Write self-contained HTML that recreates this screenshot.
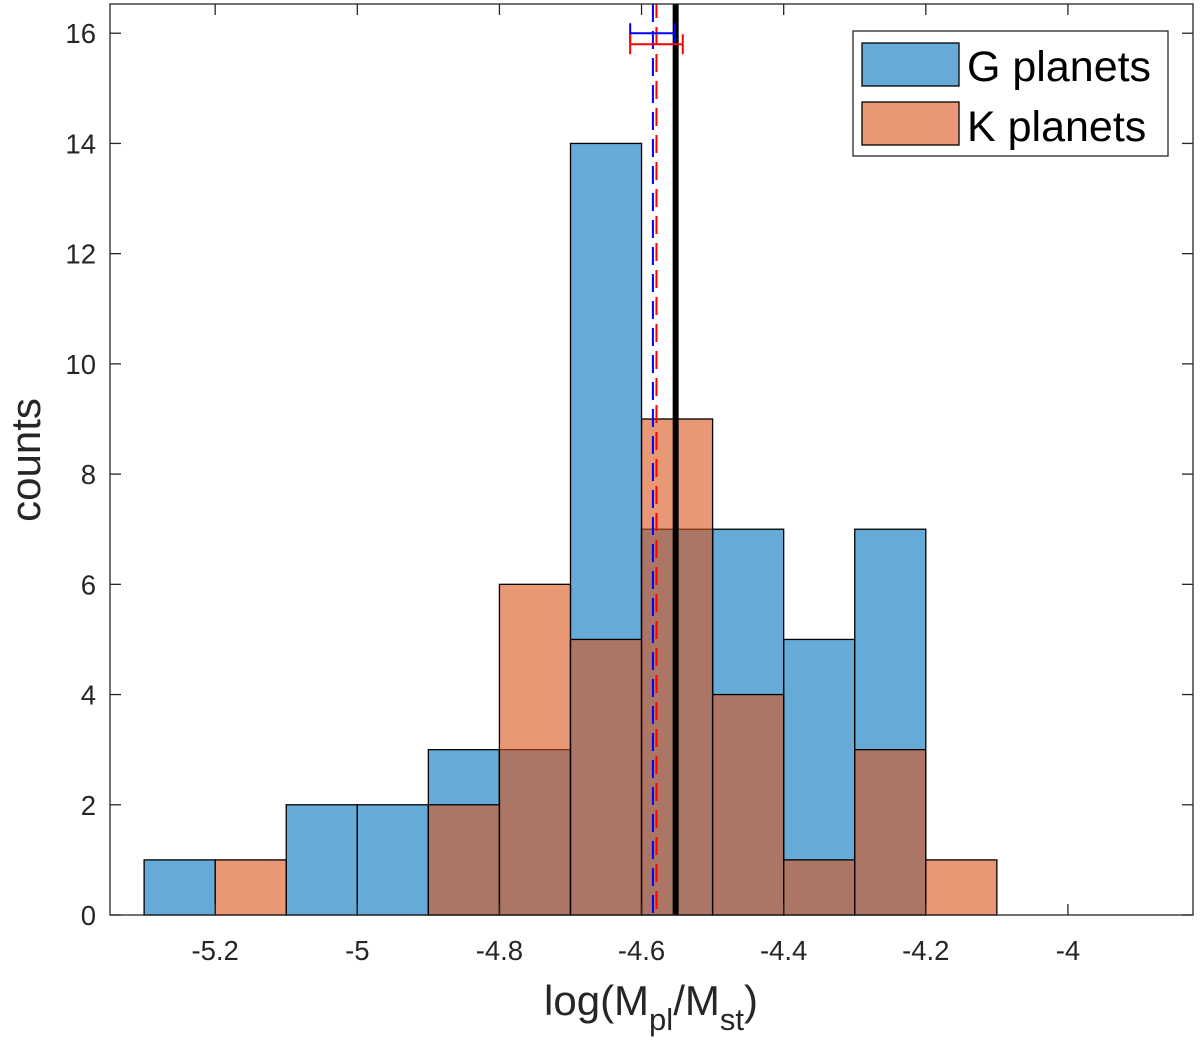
<!DOCTYPE html>
<html><head><meta charset="utf-8"><style>body{margin:0;background:#fff}svg{display:block}text{font-family:"Liberation Sans",Arial,sans-serif;fill:#262626}</style></head>
<body>
<svg id="c" width="1200" height="1053" viewBox="0 0 1200 1053"></svg>
<script>
const binStarts=[-5.3,-5.2,-5.1,-5.0,-4.9,-4.8,-4.7,-4.6,-4.5,-4.4,-4.3,-4.2];
const gCounts=[1,0,2,2,3,3,14,7,7,5,7,0];
const kCounts=[0,1,0,0,2,6,5,9,4,1,3,1];
const xTicks=[-5.2,-5,-4.8,-4.6,-4.4,-4.2,-4];
const xTickLabels=["-5.2","-5","-4.8","-4.6","-4.4","-4.2","-4"];
const yTicks=[0,2,4,6,8,10,12,14,16];
const meanAll=-4.552, meanG=-4.584, meanK=-4.579;
const errG=[-4.616,-4.553], errK=[-4.616,-4.542];
const binW=0.1;
const L=110,R=1193,T=4,B=915,x0=-5.348,x1=-3.824,y0=0,y1=16.53;
const X=v=>L+(v-x0)/(x1-x0)*(R-L), Y=v=>B-(v-y0)/(y1-y0)*(B-T);
const svg=document.getElementById('c'),NS='http://www.w3.org/2000/svg';
function el(t,a,p){const e=document.createElementNS(NS,t);for(const k in a)e.setAttribute(k,a[k]);(p||svg).appendChild(e);return e;}
const gG=el('g',{});


binStarts.forEach((s,i)=>{if(!gCounts[i])return;const r=el('rect',{x:X(s),y:Y(gCounts[i]),width:X(s+binW)-X(s),height:B-Y(gCounts[i]),fill:'#0072bd','fill-opacity':0.6,stroke:'#000','stroke-width':1.3},gG);

});
const gK=el('g',{});


binStarts.forEach((s,i)=>{if(!kCounts[i])return;const r=el('rect',{x:X(s),y:Y(kCounts[i]),width:X(s+binW)-X(s),height:B-Y(kCounts[i]),fill:'#d95319','fill-opacity':0.6,stroke:'#000','stroke-width':1.3},gK);

});
let ln=el('line',{x1:X(meanG),x2:X(meanG),y1:T,y2:B,stroke:'#0000ff','stroke-width':2,'stroke-dasharray':'18,9'});


ln=el('line',{x1:X(meanK),x2:X(meanK),y1:T,y2:B,stroke:'#ff0000','stroke-width':2,'stroke-dasharray':'18,9','stroke-dashoffset':4});


ln=el('line',{x1:X(meanAll),x2:X(meanAll),y1:T,y2:B,stroke:'#000','stroke-width':6});


function eb(r,yv,c,n){const g=el('g',{stroke:c,'stroke-width':2});


el('line',{x1:X(r[0]),x2:X(r[1]),y1:Y(yv),y2:Y(yv)},g);
[r[0],r[1]].forEach(v=>el('line',{x1:X(v),x2:X(v),y1:Y(yv)-10,y2:Y(yv)+10},g));}
eb(errG,16,'#0000ff','g-error-bar');eb(errK,15.8,'#ff0000','k-error-bar');
const ax=el('rect',{x:L,y:T,width:R-L,height:B-T,fill:'none',stroke:'#262626','stroke-width':1.3});


xTicks.forEach((v,i)=>{el('line',{x1:X(v),x2:X(v),y1:B,y2:B-11,stroke:'#262626','stroke-width':1.3});el('line',{x1:X(v),x2:X(v),y1:T,y2:T+11,stroke:'#262626','stroke-width':1.3});
const t=el('text',{x:X(v),y:B+45,'text-anchor':'middle','font-size':27.5});t.textContent=xTickLabels[i];

});
yTicks.forEach(v=>{el('line',{x1:L,x2:L+11,y1:Y(v),y2:Y(v),stroke:'#262626','stroke-width':1.3});el('line',{x1:R-11,x2:R,y1:Y(v),y2:Y(v),stroke:'#262626','stroke-width':1.3});
const t=el('text',{x:L-14,y:Y(v)+10,'text-anchor':'end','font-size':27.5});t.textContent=v;

});
</script>
<svg width="1200" height="1053" style="position:absolute;left:0;top:0">
<text transform="translate(40,460) rotate(-90)" text-anchor="middle" font-size="42">counts</text>
<text x="651" y="1015" text-anchor="middle" font-size="42">log(M<tspan font-size="31" dy="15">pl</tspan><tspan dy="-15">/M</tspan><tspan font-size="31" dy="15">st</tspan><tspan dy="-15">)</tspan></text>
<g>
<rect x="853" y="31" width="315" height="125" fill="#fff" stroke="#262626" stroke-width="1.3"/>
<rect x="862" y="43" width="97" height="43" fill="#0072bd" fill-opacity="0.6" stroke="#000" stroke-width="1.3"/>
<text x="967" y="81" font-size="43" style="fill:#000">G planets</text>
<rect x="862" y="102" width="97" height="43" fill="#d95319" fill-opacity="0.6" stroke="#000" stroke-width="1.3"/>
<text x="967" y="141" font-size="43" style="fill:#000">K planets</text>
</g>
</svg>
</body></html>
